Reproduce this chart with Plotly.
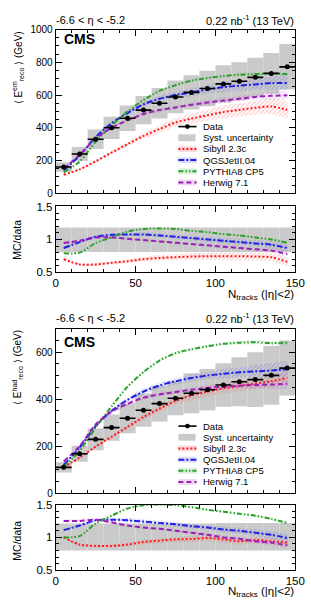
import plotly.graph_objects as go

W, H = 311, 612

# ---------------- data ----------------
x_centers = [5, 15, 25, 35, 45, 55, 65, 75, 85, 95, 105, 115, 125, 135, 145]
bin_width = 10

# Panel A: electromagnetic
data_em = [160, 240, 330, 400, 458, 508, 550, 588, 616, 640, 668, 684, 708, 732, 772]
syst_em_rel = [0.18, 0.18, 0.18, 0.17, 0.17, 0.17, 0.17, 0.17, 0.17, 0.17, 0.17, 0.17, 0.17, 0.17, 0.18]
sib_em = [113, 146, 195, 248, 300, 350, 392, 432, 456, 476, 496, 509, 522, 530, 509]
qgs_em = [140, 230, 343, 428, 490, 543, 577, 600, 616, 634, 648, 657, 665, 673, 674]
pyt_em = [128, 194, 314, 414, 500, 570, 625, 660, 688, 704, 716, 724, 728, 730, 728]
hw_em = [150, 235, 334, 400, 445, 484, 508, 524, 540, 554, 566, 577, 588, 595, 598]
sib_em_r = [0.70, 0.62, 0.62, 0.645, 0.67, 0.70, 0.72, 0.73, 0.74, 0.745, 0.745, 0.745, 0.74, 0.73, 0.66]
qgs_em_r = [0.87, 0.96, 1.04, 1.07, 1.075, 1.075, 1.06, 1.04, 1.02, 1.0, 0.98, 0.96, 0.94, 0.92, 0.87]
pyt_em_r = [0.79, 0.80, 0.945, 1.03, 1.12, 1.16, 1.165, 1.16, 1.13, 1.11, 1.08, 1.06, 1.03, 1.0, 0.95]
hw_em_r = [0.945, 0.98, 1.03, 1.03, 1.01, 0.99, 0.97, 0.95, 0.93, 0.91, 0.89, 0.87, 0.85, 0.83, 0.78]
ratio_band_em_lo = [0.81, 0.81, 0.81, 0.81, 0.81, 0.81, 0.81, 0.81, 0.81, 0.81, 0.81, 0.81, 0.81, 0.81, 0.81]
ratio_band_em_hi = [1.18, 1.18, 1.18, 1.18, 1.18, 1.18, 1.18, 1.18, 1.18, 1.18, 1.18, 1.18, 1.18, 1.18, 1.18]
sib_em_u = [0.03, 0.03, 0.04, 0.04, 0.05, 0.05, 0.06, 0.06, 0.07, 0.07, 0.08, 0.08, 0.08, 0.09, 0.09]
qgs_em_u = [0.02, 0.02, 0.02, 0.02, 0.02, 0.03, 0.03, 0.03, 0.04, 0.04, 0.05, 0.05, 0.05, 0.06, 0.06]
pyt_em_u = [0.01, 0.01, 0.01, 0.01, 0.01, 0.01, 0.01, 0.01, 0.01, 0.01, 0.01, 0.015, 0.015, 0.015, 0.015]
hw_em_u = [0.02, 0.02, 0.02, 0.02, 0.02, 0.02, 0.02, 0.02, 0.02, 0.03, 0.03, 0.03, 0.03, 0.04, 0.04]

# Panel B: hadronic
data_had = [110, 168, 229, 279, 319, 353, 381, 404, 425, 440, 460, 474, 483, 501, 532]
syst_had_rel = [0.2, 0.2, 0.2, 0.2, 0.2, 0.2, 0.2, 0.18, 0.2, 0.2, 0.2, 0.22, 0.24, 0.25, 0.22]
sib_had = [110, 152, 198, 240, 282, 324, 360, 392, 416, 432, 446, 456, 466, 476, 490]
qgs_had = [120, 195, 285, 350, 397, 432, 458, 476, 490, 500, 508, 514, 518, 522, 527]
pyt_had = [112, 180, 279, 369, 453, 515, 564, 595, 612, 625, 635, 640, 642, 638, 640]
hw_had = [135, 200, 292, 347, 380, 406, 420, 430, 440, 447, 453, 457, 460, 462, 465]
sib_had_r = [1.0, 0.89, 0.87, 0.87, 0.89, 0.93, 0.95, 0.97, 0.975, 0.99, 0.97, 0.94, 0.96, 0.94, 0.92]
qgs_had_r = [1.11, 1.18, 1.26, 1.27, 1.26, 1.24, 1.22, 1.20, 1.17, 1.15, 1.12, 1.10, 1.07, 1.04, 0.99]
pyt_had_r = [1.0, 1.02, 1.21, 1.33, 1.44, 1.49, 1.5, 1.49, 1.46, 1.42, 1.39, 1.36, 1.33, 1.28, 1.22]
hw_had_r = [1.25, 1.25, 1.27, 1.23, 1.18, 1.15, 1.13, 1.10, 1.07, 1.04, 1.0, 0.98, 0.94, 0.92, 0.88]
ratio_band_had_lo = [0.8, 0.8, 0.8, 0.8, 0.8, 0.8, 0.8, 0.8, 0.8, 0.8, 0.8, 0.8, 0.8, 0.8, 0.8]
ratio_band_had_hi = [1.21, 1.21, 1.21, 1.21, 1.21, 1.21, 1.21, 1.21, 1.21, 1.21, 1.22, 1.22, 1.22, 1.22, 1.22]
sib_had_u = [0.02, 0.02, 0.03, 0.03, 0.03, 0.04, 0.04, 0.04, 0.05, 0.05, 0.05, 0.05, 0.05, 0.05, 0.05]
qgs_had_u = [0.02, 0.02, 0.02, 0.02, 0.03, 0.03, 0.03, 0.03, 0.03, 0.03, 0.04, 0.04, 0.05, 0.06, 0.06]
pyt_had_u = [0.01, 0.01, 0.01, 0.01, 0.01, 0.01, 0.01, 0.01, 0.01, 0.01, 0.01, 0.015, 0.015, 0.015, 0.015]
hw_had_u = [0.02, 0.02, 0.02, 0.02, 0.02, 0.02, 0.02, 0.02, 0.02, 0.03, 0.03, 0.03, 0.03, 0.04, 0.04]

model_names = ["Sibyll 2.3c", "QGSJetII.04", "PYTHIA8 CP5", "Herwig 7.1"]

# ---------------- styles ----------------
FONT = "Liberation Sans, Arial, sans-serif"
GRAY = "#cacaca"
STY = {
    "Sibyll 2.3c": dict(color="#ff1a1a", dash="2px,2px", band="rgba(255,60,60,0.55)", leg="rgba(255,60,60,0.2)"),
    "QGSJetII.04": dict(color="#1f1fe6", dash="6px,2px,2px,2px", band="rgba(60,60,230,0.5)", leg="rgba(60,60,230,0.18)"),
    "PYTHIA8 CP5": dict(color="#2ca02c", dash="5px,2px,1.5px,2px,1.5px,2px", band="rgba(40,170,40,0.45)", leg="rgba(40,170,40,0.18)"),
    "Herwig 7.1": dict(color="#9a1fb8", dash="5px,3px", band="rgba(160,40,190,0.5)", leg="rgba(160,40,190,0.18)"),
}

fig = go.Figure()


def add_panel(ax_main, ax_ratio, data, syst_rel, models, ratios, uncs, band_lo, band_hi):
    xm, ym = ax_main
    xr, yr = ax_ratio
    # syst boxes
    fig.add_trace(go.Bar(
        x=x_centers, y=[2 * d * r for d, r in zip(data, syst_rel)],
        base=[d * (1 - r) for d, r in zip(data, syst_rel)],
        width=bin_width, marker=dict(color=GRAY, line=dict(width=0)),
        xaxis=xm, yaxis=ym, showlegend=False, hoverinfo="skip"))
    fig.add_trace(go.Bar(
        x=x_centers, y=[h - l for l, h in zip(band_lo, band_hi)], base=band_lo,
        width=bin_width, marker=dict(color=GRAY, line=dict(width=0)),
        xaxis=xr, yaxis=yr, showlegend=False, hoverinfo="skip"))
    for name, vals, rat, u in zip(model_names, models, ratios, uncs):
        s = STY[name]
        for (xa, ya, v) in ((xm, ym, vals), (xr, yr, rat)):
            up = [a * (1 + b) for a, b in zip(v, u)]
            lo = [a * (1 - b) for a, b in zip(v, u)]
            fig.add_trace(go.Scatter(
                x=x_centers + x_centers[::-1], y=up + lo[::-1], mode="lines",
                fill="toself", fillcolor="rgba(255,255,255,0)",
                fillpattern=dict(shape="/", fgcolor=s["band"], bgcolor="rgba(255,255,255,0)",
                                 size=3, solidity=0.4),
                line=dict(width=0, shape="spline", smoothing=0.6),
                xaxis=xa, yaxis=ya, showlegend=False, hoverinfo="skip"))
            fig.add_trace(go.Scatter(
                x=x_centers, y=v, mode="lines",
                line=dict(color=s["color"], width=2, dash=s["dash"], shape="spline", smoothing=0.8),
                xaxis=xa, yaxis=ya, showlegend=False, hoverinfo="skip"))
    fig.add_trace(go.Scatter(
        x=x_centers, y=data, mode="markers",
        marker=dict(color="black", size=5),
        error_x=dict(type="constant", value=bin_width / 2, thickness=1.6, width=0, color="black"),
        xaxis=xm, yaxis=ym, showlegend=False, hoverinfo="skip"))


add_panel(("x", "y"), ("x2", "y2"), data_em, syst_em_rel,
          [sib_em, qgs_em, pyt_em, hw_em], [sib_em_r, qgs_em_r, pyt_em_r, hw_em_r],
          [sib_em_u, qgs_em_u, pyt_em_u, hw_em_u], ratio_band_em_lo, ratio_band_em_hi)
add_panel(("x3", "y3"), ("x4", "y4"), data_had, syst_had_rel,
          [sib_had, qgs_had, pyt_had, hw_had], [sib_had_r, qgs_had_r, pyt_had_r, hw_had_r],
          [sib_had_u, qgs_had_u, pyt_had_u, hw_had_u], ratio_band_had_lo, ratio_band_had_hi)


# ---------------- layout ----------------
def py(p):
    return 1 - p / H


def px(p):
    return p / W


XDOM = [px(55), px(305)]


def xaxis(anchor, labels):
    return dict(domain=XDOM, range=[0, 150], anchor=anchor, showticklabels=labels,
                tickmode="linear", tick0=0, dtick=50, ticks="inside", ticklen=6, tickwidth=1,
                tickcolor="black", minor=dict(dtick=10, ticklen=3, ticks="inside", tickcolor="black"),
                showline=True, linecolor="black", linewidth=1, mirror="ticks",
                ticklabeloverflow="allow",
                showgrid=False, zeroline=False, tickfont=dict(size=11.5, color="black"))


def yaxis(anchor, dom, rng, dtick, mdtick, fs):
    return dict(domain=dom, range=rng, anchor=anchor, tickmode="linear", tick0=0, dtick=dtick,
                ticks="inside", ticklen=6, tickwidth=1, tickcolor="black",
                minor=dict(dtick=mdtick, ticklen=3, ticks="inside", tickcolor="black"),
                showline=True, linecolor="black", linewidth=1, mirror="ticks",
                showgrid=False, zeroline=False, tickfont=dict(size=fs, color="black"))


fig.update_layout(
    width=W, height=H, autosize=False,
    margin=dict(l=0, r=0, t=0, b=0, pad=0),
    paper_bgcolor="white", plot_bgcolor="white",
    font=dict(family=FONT, color="black", size=10),
    barmode="overlay", showlegend=False,
    xaxis=xaxis("y", False),
    xaxis2=xaxis("y2", True),
    xaxis3=xaxis("y3", False),
    xaxis4=xaxis("y4", True),
    yaxis=yaxis("x", [py(191), py(24)], [0, 1000], 200, 50, 10),
    yaxis2=yaxis("x2", [py(271.7), py(204.5)], [0.5, 1.5], 0.5, 0.1, 11.5),
    yaxis3=yaxis("x3", [py(497), py(329)], [0, 700], 200, 50, 10),
    yaxis4=yaxis("x4", [py(575.5), py(508.5)], [0.5, 1.5], 0.5, 0.1, 11.5),
)

annotations = []
shapes = []


def ann(text, x, y, xanchor="center", yanchor="middle", size=10, angle=0):
    annotations.append(dict(text=text, x=x, y=y, xref="paper", yref="paper", xanchor=xanchor,
                            yanchor=yanchor, showarrow=False, textangle=angle,
                            font=dict(size=size, family=FONT, color="black")))


for top, ytitle, xt_y in ((0, "⟨ E<sup>em</sup><sub>reco</sub> ⟩ (GeV)", 295),
                          (304.5, "⟨ E<sup>had</sup><sub>reco</sub> ⟩ (GeV)", 598)):
    ann("-6.6 &lt; η &lt; -5.2", px(53), py(14 + top), xanchor="left", size=11)
    ann("0.22 nb<sup>-1</sup> (13 TeV)", px(306), py(14 + top), xanchor="right", size=11)
    ann("<b>CMS</b>", px(62), py(34 + top + (4 if top else 0)), xanchor="left", size=14)
    ann(ytitle, px(15), py(24 + top), yanchor="top", size=10, angle=-90)
    ann("N<sub>tracks</sub> (|η|&lt;2)", px(306), py(xt_y), xanchor="right", size=11.5)

ann("MC/data", px(15), py(238), size=10.5, angle=-90)
ann("MC/data", px(15), py(545), size=10.5, angle=-90)

# manual legends
legend_entries = [("Data", "data"), ("Syst. uncertainty", "syst")] + [(m, "mc") for m in model_names]
for y0 in (123, 428.5):
    for i, (label, kind) in enumerate(legend_entries):
        yc = y0 + i * 11.4
        if kind == "data":
            shapes.append(dict(type="line", xref="paper", yref="paper", x0=px(183), x1=px(202),
                               y0=py(yc), y1=py(yc), line=dict(color="black", width=1.6)))
            shapes.append(dict(type="circle", xref="paper", yref="paper", x0=px(190), x1=px(195),
                               y0=py(yc + 2.5), y1=py(yc - 2.5), fillcolor="black",
                               line=dict(color="black", width=0)))
        elif kind == "syst":
            shapes.append(dict(type="rect", xref="paper", yref="paper", x0=px(183), x1=px(201),
                               y0=py(yc + 3.5), y1=py(yc - 3.5), fillcolor=GRAY, line=dict(width=0)))
        else:
            s = STY[label]
            shapes.append(dict(type="rect", xref="paper", yref="paper", x0=px(183), x1=px(202),
                               y0=py(yc + 3), y1=py(yc - 3), fillcolor=s["leg"],
                               line=dict(width=0)))
            shapes.append(dict(type="line", xref="paper", yref="paper", x0=px(183), x1=px(202),
                               y0=py(yc), y1=py(yc), line=dict(color=s["color"], width=2, dash=s["dash"])))
        ann(label, px(207), py(yc), xanchor="left", size=9.5)

fig.update_layout(annotations=annotations, shapes=shapes)
fig.write_html("out.html")
